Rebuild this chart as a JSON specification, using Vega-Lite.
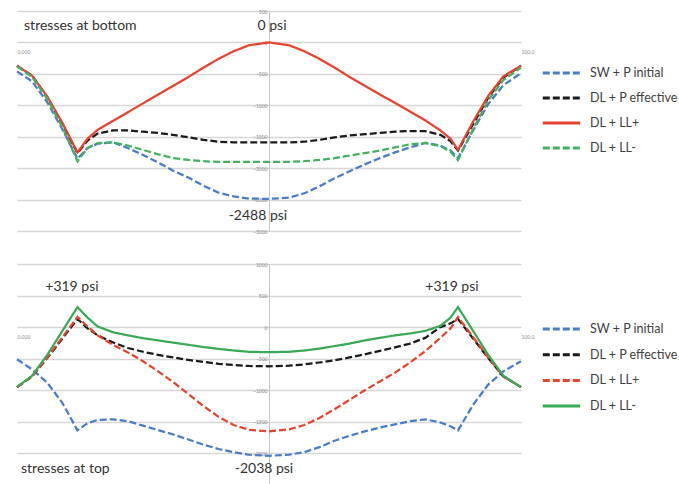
{
  "$schema": "https://vega.github.io/schema/vega-lite/v6.json",
  "padding": {"left": 12, "top": 9, "right": 0, "bottom": 0},
  "autosize": {"type": "pad"},
  "background": "white",
  "spacing": 33,
  "bounds": "flush",
  "config": {
    "view": {"stroke": null},
    "font": "Lato",
    "legend": {"padding": 0}
  },
  "datasets": {
    "bottomStress": [
      {"x": 0, "SW + P initial": -460, "DL + P effective": -370, "DL + LL+": -370, "DL + LL-": -380},
      {"x": 3, "SW + P initial": -620, "DL + P effective": -530, "DL + LL+": -530, "DL + LL-": -550},
      {"x": 6, "SW + P initial": -950, "DL + P effective": -870, "DL + LL+": -860, "DL + LL-": -900},
      {"x": 9, "SW + P initial": -1380, "DL + P effective": -1300, "DL + LL+": -1280, "DL + LL-": -1350},
      {"x": 12, "SW + P initial": -1850, "DL + P effective": -1760, "DL + LL+": -1750, "DL + LL-": -1890},
      {"x": 14, "SW + P initial": -1680, "DL + P effective": -1560, "DL + LL+": -1530, "DL + LL-": -1680},
      {"x": 16, "SW + P initial": -1610, "DL + P effective": -1450, "DL + LL+": -1390, "DL + LL-": -1600},
      {"x": 19, "SW + P initial": -1590, "DL + P effective": -1400, "DL + LL+": -1250, "DL + LL-": -1590},
      {"x": 22, "SW + P initial": -1680, "DL + P effective": -1400, "DL + LL+": -1110, "DL + LL-": -1640},
      {"x": 25, "SW + P initial": -1790, "DL + P effective": -1420, "DL + LL+": -970, "DL + LL-": -1710},
      {"x": 28, "SW + P initial": -1910, "DL + P effective": -1440, "DL + LL+": -830, "DL + LL-": -1780},
      {"x": 31, "SW + P initial": -2040, "DL + P effective": -1470, "DL + LL+": -690, "DL + LL-": -1840},
      {"x": 34, "SW + P initial": -2150, "DL + P effective": -1510, "DL + LL+": -550, "DL + LL-": -1870},
      {"x": 37, "SW + P initial": -2280, "DL + P effective": -1550, "DL + LL+": -400, "DL + LL-": -1890},
      {"x": 40, "SW + P initial": -2390, "DL + P effective": -1580, "DL + LL+": -260, "DL + LL-": -1900},
      {"x": 43, "SW + P initial": -2450, "DL + P effective": -1590, "DL + LL+": -140, "DL + LL-": -1900},
      {"x": 46, "SW + P initial": -2485, "DL + P effective": -1590, "DL + LL+": -45, "DL + LL-": -1900},
      {"x": 50, "SW + P initial": -2488, "DL + P effective": -1590, "DL + LL+": 0, "DL + LL-": -1900},
      {"x": 54, "SW + P initial": -2470, "DL + P effective": -1590, "DL + LL+": -45, "DL + LL-": -1900},
      {"x": 57, "SW + P initial": -2400, "DL + P effective": -1580, "DL + LL+": -140, "DL + LL-": -1890},
      {"x": 60, "SW + P initial": -2290, "DL + P effective": -1550, "DL + LL+": -260, "DL + LL-": -1870},
      {"x": 63, "SW + P initial": -2160, "DL + P effective": -1510, "DL + LL+": -400, "DL + LL-": -1840},
      {"x": 66, "SW + P initial": -2050, "DL + P effective": -1480, "DL + LL+": -550, "DL + LL-": -1800},
      {"x": 69, "SW + P initial": -1940, "DL + P effective": -1460, "DL + LL+": -690, "DL + LL-": -1760},
      {"x": 72, "SW + P initial": -1840, "DL + P effective": -1440, "DL + LL+": -830, "DL + LL-": -1720},
      {"x": 75, "SW + P initial": -1750, "DL + P effective": -1420, "DL + LL+": -960, "DL + LL-": -1670},
      {"x": 78, "SW + P initial": -1670, "DL + P effective": -1410, "DL + LL+": -1100, "DL + LL-": -1620},
      {"x": 81, "SW + P initial": -1600, "DL + P effective": -1410, "DL + LL+": -1240, "DL + LL-": -1600},
      {"x": 84, "SW + P initial": -1640, "DL + P effective": -1470, "DL + LL+": -1400, "DL + LL-": -1650},
      {"x": 86, "SW + P initial": -1720, "DL + P effective": -1570, "DL + LL+": -1530, "DL + LL-": -1740},
      {"x": 87.5, "SW + P initial": -1840, "DL + P effective": -1720, "DL + LL+": -1710, "DL + LL-": -1870},
      {"x": 90.5, "SW + P initial": -1400, "DL + P effective": -1300, "DL + LL+": -1260, "DL + LL-": -1380},
      {"x": 93.5, "SW + P initial": -980, "DL + P effective": -880, "DL + LL+": -850, "DL + LL-": -920},
      {"x": 96.5, "SW + P initial": -680, "DL + P effective": -560, "DL + LL+": -540, "DL + LL-": -600},
      {"x": 100, "SW + P initial": -490, "DL + P effective": -370, "DL + LL+": -370, "DL + LL-": -400}
    ],
    "topStress": [
      {"x": 0, "SW + P initial": -508, "DL + P effective": -950, "DL + LL+": -950, "DL + LL-": -950},
      {"x": 3, "SW + P initial": -670, "DL + P effective": -780, "DL + LL+": -780, "DL + LL-": -770},
      {"x": 6, "SW + P initial": -880, "DL + P effective": -490, "DL + LL+": -480, "DL + LL-": -440},
      {"x": 9, "SW + P initial": -1200, "DL + P effective": -180, "DL + LL+": -160, "DL + LL-": -60},
      {"x": 12, "SW + P initial": -1635, "DL + P effective": 130, "DL + LL+": 160, "DL + LL-": 317},
      {"x": 14, "SW + P initial": -1520, "DL + P effective": -20, "DL + LL+": 10, "DL + LL-": 150},
      {"x": 16, "SW + P initial": -1470, "DL + P effective": -130, "DL + LL+": -130, "DL + LL-": 10},
      {"x": 19, "SW + P initial": -1460, "DL + P effective": -240, "DL + LL+": -280, "DL + LL-": -80},
      {"x": 22, "SW + P initial": -1490, "DL + P effective": -330, "DL + LL+": -400, "DL + LL-": -130},
      {"x": 25, "SW + P initial": -1560, "DL + P effective": -390, "DL + LL+": -540, "DL + LL-": -175},
      {"x": 28, "SW + P initial": -1630, "DL + P effective": -440, "DL + LL+": -700, "DL + LL-": -210},
      {"x": 31, "SW + P initial": -1700, "DL + P effective": -480, "DL + LL+": -870, "DL + LL-": -245},
      {"x": 34, "SW + P initial": -1780, "DL + P effective": -520, "DL + LL+": -1060, "DL + LL-": -280},
      {"x": 37, "SW + P initial": -1860, "DL + P effective": -550, "DL + LL+": -1250, "DL + LL-": -315},
      {"x": 40, "SW + P initial": -1930, "DL + P effective": -580, "DL + LL+": -1420, "DL + LL-": -345},
      {"x": 43, "SW + P initial": -1980, "DL + P effective": -600, "DL + LL+": -1550, "DL + LL-": -370},
      {"x": 46, "SW + P initial": -2020, "DL + P effective": -615, "DL + LL+": -1625, "DL + LL-": -390},
      {"x": 50, "SW + P initial": -2038, "DL + P effective": -620, "DL + LL+": -1650, "DL + LL-": -397},
      {"x": 54, "SW + P initial": -2020, "DL + P effective": -610, "DL + LL+": -1620, "DL + LL-": -390},
      {"x": 57, "SW + P initial": -1980, "DL + P effective": -590, "DL + LL+": -1550, "DL + LL-": -370},
      {"x": 60, "SW + P initial": -1900, "DL + P effective": -560, "DL + LL+": -1440, "DL + LL-": -340},
      {"x": 63, "SW + P initial": -1800, "DL + P effective": -525, "DL + LL+": -1300, "DL + LL-": -300},
      {"x": 66, "SW + P initial": -1720, "DL + P effective": -480, "DL + LL+": -1150, "DL + LL-": -260},
      {"x": 69, "SW + P initial": -1650, "DL + P effective": -430, "DL + LL+": -1000, "DL + LL-": -210},
      {"x": 72, "SW + P initial": -1590, "DL + P effective": -375, "DL + LL+": -860, "DL + LL-": -170},
      {"x": 75, "SW + P initial": -1540, "DL + P effective": -320, "DL + LL+": -720, "DL + LL-": -130},
      {"x": 78, "SW + P initial": -1490, "DL + P effective": -260, "DL + LL+": -560, "DL + LL-": -100},
      {"x": 81, "SW + P initial": -1460, "DL + P effective": -170, "DL + LL+": -380, "DL + LL-": -60},
      {"x": 84, "SW + P initial": -1510, "DL + P effective": 0, "DL + LL+": -170, "DL + LL-": 20},
      {"x": 86, "SW + P initial": -1570, "DL + P effective": 60, "DL + LL+": -20, "DL + LL-": 150},
      {"x": 87.5, "SW + P initial": -1635, "DL + P effective": 130, "DL + LL+": 160, "DL + LL-": 317},
      {"x": 90.5, "SW + P initial": -1230, "DL + P effective": -180, "DL + LL+": -160, "DL + LL-": -60},
      {"x": 93.5, "SW + P initial": -910, "DL + P effective": -490, "DL + LL+": -480, "DL + LL-": -440},
      {"x": 96.5, "SW + P initial": -700, "DL + P effective": -780, "DL + LL+": -780, "DL + LL-": -770},
      {"x": 100, "SW + P initial": -540, "DL + P effective": -950, "DL + LL+": -950, "DL + LL-": -950}
    ],
    "notesTop": [
      {"label": "stresses at bottom", "x": 1.4, "y": 261},
      {"label": "0 psi", "x": 50.6, "y": 261},
      {"label": "-2488 psi", "x": 47.8, "y": -2762}
    ],
    "notesBottom": [
      {"label": "+319 psi", "x": 10.9, "y": 636},
      {"label": "+319 psi", "x": 86.3, "y": 636},
      {"label": "stresses at top", "x": 0.8, "y": -2247},
      {"label": "-2038 psi", "x": 49, "y": -2247}
    ]
  },
  "vconcat": [
    {
      "width": 504,
      "height": 220,
      "encoding": {
        "x": {"field": "x", "type": "quantitative", "scale": {"domain": [0, 100], "nice": false, "zero": false},
          "axis": {"orient": "bottom", "offset": -188.6, "values": [0, 100], "labelExpr": "datum.value == 0 ? '0.000' : '100.0'", "labelAlign": "left", "domain": false, "ticks": false, "grid": false, "labelFontSize": 5, "labelColor": "#8a8a8a", "labelPadding": 7, "title": null}},
        "y": {"field": "y", "type": "quantitative", "scale": {"domain": [-3000, 500], "nice": false},
          "axis": {"orient": "left", "offset": -252, "values": [500, 0, -500, -1000, -1500, -2000, -2500, -3000], "format": "d", "grid": true, "gridColor": "#d6d6d6", "gridWidth": 1.5, "domainColor": "#c4c4c4", "ticks": false, "labelFontSize": 5, "labelColor": "#8a8a8a", "labelPadding": 2, "title": null}}
      },
      "layer": [
        {
          "data": {"name": "bottomStress"},
          "transform": [{"fold": ["SW + P initial", "DL + P effective", "DL + LL+", "DL + LL-"], "as": ["series", "y"]}],
          "mark": {"type": "line", "strokeWidth": 2.25},
          "encoding": {
            "color": {"field": "series", "type": "nominal",
              "scale": {"domain": ["SW + P initial", "DL + P effective", "DL + LL+", "DL + LL-"], "range": ["#4A7CC9", "#1a1a1a", "#E8432E", "#45B062"]},
              "legend": {"orient": "none", "legendX": 524, "legendY": 55.5, "title": null, "symbolType": "stroke", "symbolSize": 1400, "symbolStrokeWidth": 3, "labelFontSize": 12.5, "labelColor": "#404040", "clipHeight": 13, "rowPadding": 12, "labelOffset": 8}},
            "strokeDash": {"field": "series", "type": "nominal",
              "scale": {"domain": ["SW + P initial", "DL + P effective", "DL + LL+", "DL + LL-"], "range": [[7, 3], [7, 3], [1, 0], [7, 3]]},
              "legend": {"orient": "none", "legendX": 524, "legendY": 55.5, "title": null, "symbolType": "stroke", "symbolSize": 1400, "symbolStrokeWidth": 3, "labelFontSize": 12.5, "labelColor": "#404040", "clipHeight": 13, "rowPadding": 12, "labelOffset": 8}}
          }
        },
        {
          "data": {"name": "notesTop"},
          "transform": [{"filter": "indexof(datum.label, 'stresses') == 0"}],
          "mark": {"type": "text", "align": "left", "baseline": "middle", "fontSize": 14, "color": "#333333"},
          "encoding": {"text": {"field": "label"}}
        },
        {
          "data": {"name": "notesTop"},
          "transform": [{"filter": "indexof(datum.label, 'stresses') != 0"}],
          "mark": {"type": "text", "align": "center", "baseline": "middle", "fontSize": 14, "color": "#333333"},
          "encoding": {"text": {"field": "label"}}
        }
      ]
    },
    {
      "width": 504,
      "height": 221,
      "encoding": {
        "x": {"field": "x", "type": "quantitative", "scale": {"domain": [0, 100], "nice": false, "zero": false},
          "axis": {"orient": "bottom", "offset": -157.9, "values": [0, 100], "labelExpr": "datum.value == 0 ? '0.000' : '100.0'", "labelAlign": "left", "domain": false, "ticks": false, "grid": false, "labelFontSize": 5, "labelColor": "#8a8a8a", "labelPadding": 7, "title": null}},
        "y": {"field": "y", "type": "quantitative", "scale": {"domain": [-2500, 1000], "nice": false},
          "axis": {"orient": "left", "offset": -252, "values": [1000, 500, 0, -500, -1000, -1500, -2000], "format": "d", "grid": true, "gridColor": "#d6d6d6", "gridWidth": 1.5, "domainColor": "#c4c4c4", "ticks": false, "labelFontSize": 5, "labelColor": "#8a8a8a", "labelPadding": 2, "title": null}}
      },
      "layer": [
        {
          "data": {"name": "topStress"},
          "transform": [{"fold": ["SW + P initial", "DL + P effective", "DL + LL+", "DL + LL-"], "as": ["series", "y"]}],
          "mark": {"type": "line", "strokeWidth": 2.25},
          "encoding": {
            "color": {"field": "series", "type": "nominal",
              "scale": {"domain": ["SW + P initial", "DL + P effective", "DL + LL+", "DL + LL-"], "range": ["#4A7CC9", "#1a1a1a", "#E8432E", "#3AAA55"]},
              "legend": {"orient": "none", "legendX": 524, "legendY": 58.5, "title": null, "symbolType": "stroke", "symbolSize": 1400, "symbolStrokeWidth": 3, "labelFontSize": 12.5, "labelColor": "#404040", "clipHeight": 13, "rowPadding": 12.7, "labelOffset": 8}},
            "strokeDash": {"field": "series", "type": "nominal",
              "scale": {"domain": ["SW + P initial", "DL + P effective", "DL + LL+", "DL + LL-"], "range": [[7, 3], [7, 3], [7, 3], [1, 0]]},
              "legend": {"orient": "none", "legendX": 524, "legendY": 58.5, "title": null, "symbolType": "stroke", "symbolSize": 1400, "symbolStrokeWidth": 3, "labelFontSize": 12.5, "labelColor": "#404040", "clipHeight": 13, "rowPadding": 12.7, "labelOffset": 8}}
          }
        },
        {
          "data": {"name": "notesBottom"},
          "transform": [{"filter": "indexof(datum.label, 'stresses') == 0"}],
          "mark": {"type": "text", "align": "left", "baseline": "middle", "fontSize": 14, "color": "#333333"},
          "encoding": {"text": {"field": "label"}}
        },
        {
          "data": {"name": "notesBottom"},
          "transform": [{"filter": "indexof(datum.label, 'stresses') != 0"}],
          "mark": {"type": "text", "align": "center", "baseline": "middle", "fontSize": 14, "color": "#333333"},
          "encoding": {"text": {"field": "label"}}
        }
      ]
    }
  ],
  "resolve": {
    "scale": {"color": "independent", "strokeDash": "independent", "x": "independent", "y": "independent"},
    "legend": {"color": "independent", "strokeDash": "independent"}
  }
}
